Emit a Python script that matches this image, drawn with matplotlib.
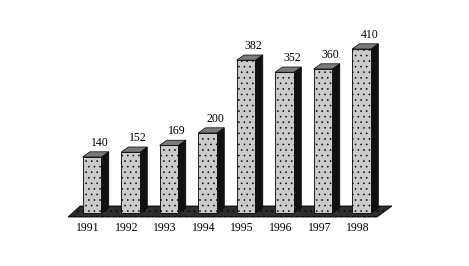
import matplotlib.pyplot as plt
from matplotlib.patches import Polygon

years = ['1991', '1992', '1993', '1994', '1995', '1996', '1997', '1998']
values = [140, 152, 169, 200, 382, 352, 360, 410]

plt.rcParams['font.family'] = ['Liberation Serif', 'DejaVu Serif']
plt.rcParams['hatch.color'] = '#9e9e9e'
plt.rcParams['hatch.linewidth'] = 0.4

fig = plt.figure(figsize=(4.69, 2.66), dpi=100)
ax = fig.add_axes([0, 0, 1, 1])
ax.set_xlim(-2.39, 9.79)
ax.set_ylim(-132.5, 532.5)
ax.axis('off')

w = 0.49      # front face width (in bar slots)
dx = 0.19     # depth offset, x
dy = 13       # depth offset, y (value units)

# floor
floor = Polygon([(-0.62, -10), (7.4, -10), (7.79, 17.5), (-0.31, 17.5)],
                closed=True, facecolor='#2e2e2e', edgecolor='black', lw=0.6,
                hatch='...', zorder=1)
ax.add_patch(floor)

x = list(range(len(values)))
ax.bar(x, values, width=w, color='#cbcbcb', edgecolor='black', lw=0.6,
       hatch='...', zorder=3)

for i, v in zip(x, values):
    l, r = i - w / 2, i + w / 2
    side = Polygon([(r, 0), (r + dx, dy), (r + dx, v + dy), (r, v)],
                   closed=True, facecolor='#111111', edgecolor='black', lw=0.5, zorder=2)
    top = Polygon([(l, v), (r, v), (r + dx, v + dy), (l + dx, v + dy)],
                  closed=True, facecolor='#7a7a7a', edgecolor='black', lw=0.5, zorder=4)
    ax.add_patch(side)
    ax.add_patch(top)
    ax.text(i + 0.2, v + dy + 8, str(v), ha='center', va='bottom', fontsize=8.5)
    ax.text(i - 0.1, -22, years[i], ha='center', va='top', fontsize=8.5)

fig.savefig('out.png', dpi=100)
